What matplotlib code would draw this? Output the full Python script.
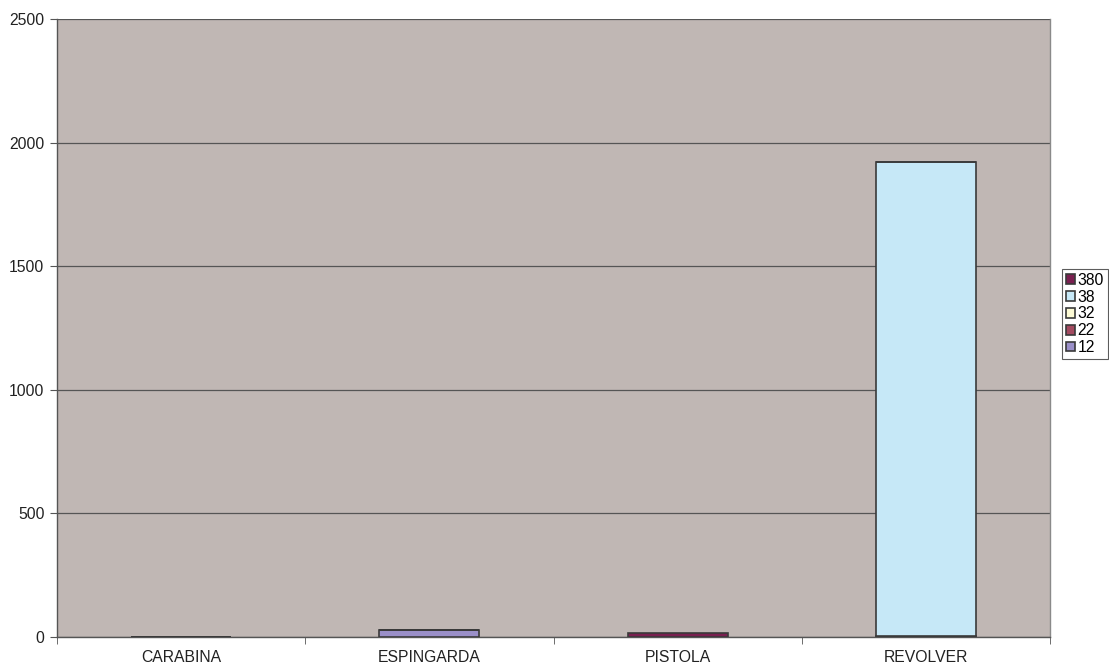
import matplotlib
matplotlib.use("Agg")
import matplotlib.pyplot as plt
import numpy as np

plt.rcParams['font.family'] = ['Liberation Sans', 'DejaVu Sans']

categories = ["CARABINA", "ESPINGARDA", "PISTOLA", "REVOLVER"]
series_names = ["12", "22", "32", "38", "380"]
s12 = [0, 28, 0, 0]
s22 = [2, 0, 0, 6]
s32 = [0, 0, 0, 0]
s38 = [0, 0, 0, 1914]
s380 = [0, 0, 15, 0]
yticks = [0, 500, 1000, 1500, 2000, 2500]

colors = {"12": "#9a8fc8", "22": "#a34a60", "32": "#fdfbd5", "38": "#c6e8f7", "380": "#7a1f50"}

W, H = 1109, 666
fig = plt.figure(figsize=(W/100, H/100), dpi=100)
ax = fig.add_axes([57/W, (H-637)/H, 993/W, 618/H])
ax.set_facecolor("#c0b7b4")

x = np.arange(len(categories))
bottom = np.zeros(len(categories))
handles = {}
for name, vals in zip(series_names, [s12, s22, s32, s38, s380]):
    v = np.array(vals, dtype=float)
    b = ax.bar(x, v, width=0.403, bottom=bottom, color=colors[name],
               edgecolor="#3a3a3a", linewidth=1.2, zorder=3, label=name)
    handles[name] = b
    bottom += v

ax.set_xlim(-0.5, len(categories) - 0.5)
ax.set_ylim(0, 2500)
ax.set_yticks(yticks)
ax.set_yticklabels([str(t) for t in yticks], fontsize=11.3, color="#222222")
ax.yaxis.grid(True, color="#555555", linewidth=0.9, zorder=1)
ax.set_xticks(x)
ax.set_xticklabels(categories, fontsize=11.3, color="#222222")
ax.tick_params(axis='x', length=0, pad=9)
ax.set_xticks(np.arange(-0.5, len(categories)), minor=True)
ax.tick_params(axis='x', which='minor', length=5, color="#555555")
ax.tick_params(axis='y', length=5, color="#555555", pad=4)

ax.spines['top'].set_visible(False)
ax.spines['right'].set_color("#8a8a8a")
ax.spines['right'].set_linewidth(1.0)
for side in ['left', 'bottom']:
    ax.spines[side].set_color("#555555")
    ax.spines[side].set_linewidth(1.0)

order = ["380", "38", "32", "22", "12"]
leg = fig.legend([handles[n] for n in order], order,
                 loc='center left', bbox_to_anchor=(1062/W, 1 - 314/H),
                 fontsize=11.3, frameon=True, fancybox=False,
                 handlelength=0.55, handleheight=0.55, handletextpad=0.2,
                 labelspacing=0.12, borderpad=0.25, borderaxespad=0)
leg.get_frame().set_edgecolor("#333333")
leg.get_frame().set_linewidth(0.8)

fig.savefig("out.png", dpi=100)
